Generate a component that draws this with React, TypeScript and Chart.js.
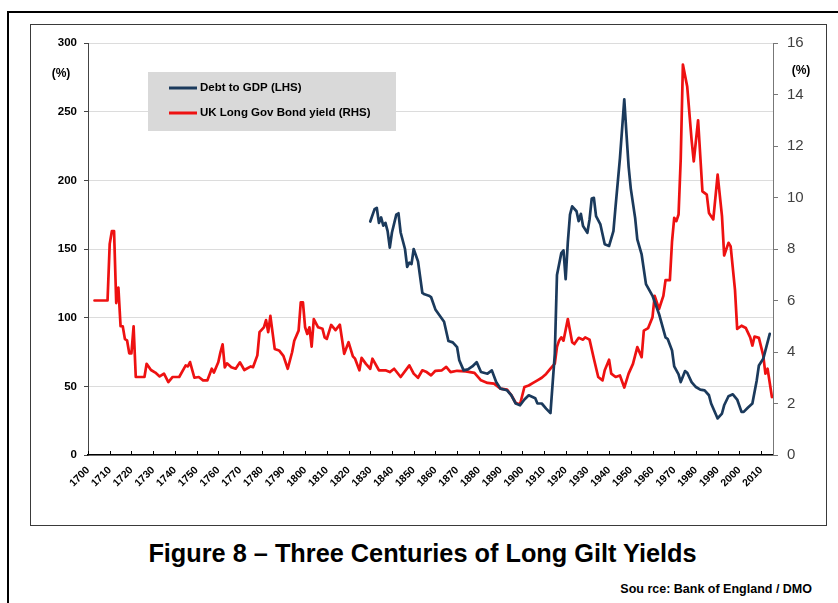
import React, { useEffect, useRef } from "react";
import { Chart, registerables } from "chart.js";

Chart.register(...registerables);

const seriesNames = ["Debt to GDP (LHS)", "UK Long Gov Bond yield (RHS)"];
const seriesColors = ["#1b3a5c", "#ee1111"];

const debtYears = [
  1830, 1832, 1833, 1834, 1835, 1836, 1837, 1838, 1839, 1840, 1842, 1843, 1844, 1846, 1847, 1848, 1849,
  1850, 1852, 1854, 1855, 1857, 1858, 1860, 1864, 1866, 1868, 1870, 1871, 1873, 1875, 1877, 1879,
  1881, 1884, 1886, 1888, 1890, 1893, 1895, 1897, 1899, 1901, 1903, 1906, 1907, 1909, 1911, 1913,
  1915, 1916, 1918, 1919, 1920, 1921, 1922, 1923, 1925, 1926, 1927, 1928, 1930, 1931, 1932, 1933,
  1934, 1936, 1938, 1940, 1942, 1943, 1945, 1947, 1948, 1949, 1950, 1952, 1953, 1955, 1957, 1960,
  1963, 1966, 1967, 1969, 1970, 1972, 1973, 1975, 1976, 1978, 1980, 1982, 1984, 1986, 1987, 1989,
  1990, 1992, 1993, 1995, 1997, 1999, 2001, 2002, 2004, 2006, 2008, 2009, 2011, 2014,
];
const debtValues = [
  170, 179, 180, 169, 173, 167, 169, 163, 151, 162, 175, 176, 162, 150, 137, 140, 139,
  150, 141, 118, 117, 116, 115, 106, 97, 83, 82, 78.5, 69, 61.6, 62.3, 64.5, 67.6,
  60.4, 59.2, 61.6, 53.1, 48.3, 47.1, 43.5, 37.5, 36.2, 40.4, 43.5, 41.3, 37.5, 37.5, 33.8, 30.5,
  73.7, 131, 147, 149, 128, 155, 175, 181, 177.5, 170.3, 175.6, 166.7, 161.8, 171.5, 186.7, 187.2,
  173.9, 167.9, 153.4, 152.2, 163, 181.2, 216, 259, 234, 210, 194, 172.7, 157, 146, 124.4, 115.9,
  102.7, 85.7, 84.5, 76.1, 64.5, 58.7, 53.1, 61.1, 59.9, 53.1, 49.5, 47.6, 47.1, 43.5, 37.5, 30.2,
  26.6, 30.2, 36.2, 42.8, 44.2, 40.4, 31.4, 31.4, 34.6, 37.5, 54.3, 65.2, 70, 88.2,
];

const yieldYears = [
  1703, 1709, 1710, 1711, 1712, 1713, 1714, 1715, 1716, 1717, 1718, 1719, 1720, 1721, 1722, 1726,
  1727, 1729, 1731, 1733, 1735, 1737, 1739, 1742, 1745, 1746, 1747, 1749, 1751, 1753, 1755, 1757,
  1758, 1760, 1761, 1762, 1763, 1764, 1766, 1768, 1770, 1772, 1775, 1776, 1778, 1779, 1781, 1782,
  1783, 1784, 1786, 1788, 1790, 1792, 1794, 1795, 1797, 1798, 1799, 1800, 1801, 1802, 1803, 1804,
  1806, 1808, 1809, 1810, 1812, 1814, 1816, 1818, 1820, 1822, 1823, 1825, 1826, 1828, 1830, 1831,
  1834, 1837, 1839, 1841, 1844, 1848, 1850, 1852, 1854, 1856, 1858, 1860, 1863, 1865, 1867, 1870,
  1874, 1878, 1881, 1884, 1887, 1890, 1893, 1895, 1897, 1899, 1901, 1903, 1905, 1907, 1909, 1911,
  1913, 1915, 1916, 1917, 1918, 1919, 1921, 1923, 1924, 1926, 1928, 1929, 1931, 1933, 1935, 1937,
  1938, 1940, 1941, 1943, 1945, 1947, 1949, 1951, 1953, 1955, 1956, 1958, 1960, 1961, 1963, 1965,
  1966, 1968, 1969, 1970, 1971, 1972, 1973, 1974, 1976, 1978, 1979, 1981, 1983, 1985, 1986, 1988,
  1990, 1992, 1993, 1995, 1996, 1998, 1999, 2001, 2003, 2005, 2006, 2007, 2009, 2011, 2012, 2013,
  2015,
];
const yieldValues = [
  6.0, 6.0, 8.2, 8.7, 8.7, 5.9, 6.5, 5.0, 5.0, 4.5, 4.45, 3.95, 3.95, 5.0, 3.03, 3.03,
  3.54, 3.3, 3.2, 3.05, 3.16, 2.83, 3.03, 3.03, 3.48, 3.44, 3.61, 3.0, 3.03, 2.9, 2.9, 3.35,
  3.2, 3.6, 3.99, 4.3, 3.4, 3.56, 3.41, 3.35, 3.6, 3.3, 3.44, 3.41, 3.87, 4.77, 4.96, 5.24,
  4.77, 5.4, 4.12, 4.06, 3.85, 3.35, 3.99, 4.44, 4.83, 5.93, 5.93, 4.96, 4.7, 4.96, 4.21, 5.28,
  4.96, 4.9, 4.57, 4.51, 5.05, 4.85, 5.06, 3.93, 4.38, 3.83, 3.74, 3.29, 3.77, 3.54, 3.35, 3.74,
  3.29, 3.29, 3.22, 3.35, 3.03, 3.48, 3.16, 3.0, 3.29, 3.22, 3.09, 3.27, 3.29, 3.42, 3.22, 3.27,
  3.25, 3.19, 2.9, 2.8, 2.77, 2.58, 2.54, 2.32, 2.02, 1.97, 2.64, 2.7, 2.8, 2.9, 3.0, 3.15,
  3.35, 3.55, 4.2, 4.45, 4.57, 4.44, 5.28, 4.38, 4.31, 4.55, 4.48, 4.57, 4.48, 3.74, 3.03, 2.9,
  3.29, 3.7, 3.16, 3.03, 3.09, 2.62, 3.16, 3.54, 4.19, 3.8, 4.83, 4.93, 5.35, 6.18, 5.67, 6.18,
  6.79, 6.79, 8.3, 9.21, 9.08, 9.34, 11.5, 15.16, 14.3, 12.24, 11.4, 13.0, 10.24, 10.11, 9.4, 9.15,
  10.89, 9.28, 7.75, 8.24, 8.1, 6.4, 4.9, 5.02, 4.93, 4.57, 4.25, 4.6, 4.55, 3.87, 3.16, 3.35,
  2.25,
];

const xTickYears = [
  1700, 1710, 1720, 1730, 1740, 1750, 1760, 1770, 1780, 1790, 1800, 1810, 1820, 1830, 1840, 1850,
  1860, 1870, 1880, 1890, 1900, 1910, 1920, 1930, 1940, 1950, 1960, 1970, 1980, 1990, 2000, 2010,
];
const leftTicks = [0, 50, 100, 150, 200, 250, 300];
const rightTicks = [0, 2, 4, 6, 8, 10, 12, 14, 16];
const unitLabel = "(%)";
const titleText = "Figure 8 \u2013 Three Centuries of Long Gilt Yields";
const sourceText = "Sou rce: Bank of England / DMO";

const FONT = "Arial, 'Liberation Sans', sans-serif";

const decorPlugin = {
  id: "decor",
  afterDraw(chart: any) {
    const ctx = chart.ctx;
    const area = chart.chartArea;
    const xs = chart.scales.x;
    ctx.save();
    ctx.strokeStyle = "#000";
    ctx.lineWidth = 1;
    xTickYears.forEach((v) => {
      const px = Math.round(xs.getPixelForValue(v)) + 0.5;
      ctx.beginPath();
      ctx.moveTo(px, area.bottom);
      ctx.lineTo(px, area.bottom - 4);
      ctx.stroke();
    });
    ctx.fillStyle = "#000";
    ctx.font = `bold 12px ${FONT}`;
    ctx.textAlign = "center";
    ctx.textBaseline = "middle";
    ctx.fillText(unitLabel, area.left - 27, area.top + 31);
    ctx.fillText(unitLabel, area.right + 28, area.top + 28);
    const lx = area.left + 60;
    const ly = area.top + 29;
    ctx.fillStyle = "#d9d9d9";
    ctx.fillRect(lx, ly, 248, 59);
    ctx.font = `bold 11.5px ${FONT}`;
    ctx.textAlign = "left";
    seriesNames.forEach((name, i) => {
      const yy = ly + 16 + i * 25;
      ctx.strokeStyle = seriesColors[i];
      ctx.lineWidth = 3;
      ctx.beginPath();
      ctx.moveTo(lx + 21, yy);
      ctx.lineTo(lx + 49, yy);
      ctx.stroke();
      ctx.fillStyle = "#000";
      ctx.fillText(name, lx + 52, yy);
    });
    ctx.restore();
  },
};

export default function App() {
  const ref = useRef<HTMLCanvasElement>(null);

  useEffect(() => {
    if (!ref.current) return;
    const chart = new Chart(ref.current, {
      type: "line",
      data: {
        datasets: [
          {
            label: seriesNames[0],
            data: debtYears.map((y, i) => ({ x: y, y: debtValues[i] })),
            borderColor: seriesColors[0],
            borderWidth: 2.7,
            pointRadius: 0,
            borderJoinStyle: "round",
            borderCapStyle: "round",
            yAxisID: "y",
          },
          {
            label: seriesNames[1],
            data: yieldYears.map((y, i) => ({ x: y, y: yieldValues[i] })),
            borderColor: seriesColors[1],
            borderWidth: 2.7,
            pointRadius: 0,
            borderJoinStyle: "round",
            borderCapStyle: "round",
            yAxisID: "y1",
          },
        ],
      },
      options: {
        responsive: false,
        animation: false,
        events: [],
        layout: { padding: { top: 16, left: 0, right: 0, bottom: 0 } },
        plugins: { legend: { display: false }, tooltip: { enabled: false } },
        scales: {
          x: {
            type: "linear",
            min: 1700,
            max: 2015.5,
            afterBuildTicks: (s: any) => {
              s.ticks = xTickYears.map((v) => ({ value: v }));
            },
            afterFit: (s: any) => {
              s.height = 70;
            },
            grid: { display: true, drawOnChartArea: false, drawTicks: false },
            border: { color: "#000", width: 1.5 },
            ticks: {
              autoSkip: false,
              maxRotation: 45,
              minRotation: 45,
              padding: 9,
              color: "#000",
              font: { family: FONT, size: 10.5, weight: "bold" },
              callback: (v: any) => String(v),
            },
          },
          y: {
            position: "left",
            min: 0,
            max: 300,
            afterBuildTicks: (s: any) => {
              s.ticks = leftTicks.map((v) => ({ value: v }));
            },
            afterFit: (s: any) => {
              s.width = 57;
            },
            grid: { color: "#dcdcdc", tickColor: "#444", tickLength: 4, lineWidth: 1 },
            border: { color: "#444", width: 1 },
            ticks: {
              padding: 7,
              color: "#000",
              font: { family: FONT, size: 11.5, weight: "bold" },
            },
          },
          y1: {
            position: "right",
            min: 0,
            max: 16,
            afterBuildTicks: (s: any) => {
              s.ticks = rightTicks.map((v) => ({ value: v }));
            },
            afterFit: (s: any) => {
              s.width = 53;
            },
            grid: { drawOnChartArea: false, tickColor: "#777", tickLength: 5 },
            border: { color: "#777", width: 1 },
            ticks: {
              padding: 9,
              color: "#404040",
              font: { family: FONT, size: 15, weight: "normal" },
            },
          },
        },
      },
      plugins: [decorPlugin],
    } as any);
    return () => chart.destroy();
  }, []);

  return (
    <div
      style={{
        position: "fixed",
        left: 0,
        top: 0,
        width: 838,
        height: 603,
        overflow: "hidden",
        background: "#fff",
        fontFamily: FONT,
      }}
    >
      <div
        style={{
          position: "absolute",
          left: 7,
          top: 11,
          width: 900,
          height: 700,
          borderLeft: "2px solid #000",
          borderTop: "2px solid #000",
        }}
      />
      <div
        style={{
          position: "absolute",
          left: 30,
          top: 24,
          width: 797,
          height: 502,
          border: "1px solid #3a3a3a",
          boxSizing: "border-box",
          background: "#fff",
        }}
      >
        <canvas ref={ref} width={795} height={500} style={{ display: "block", width: 795, height: 500 }} />
      </div>
      <div
        style={{
          position: "absolute",
          left: 0,
          width: 845,
          top: 538,
          textAlign: "center",
          fontSize: 25.3,
          lineHeight: "30px",
          fontWeight: "bold",
          color: "#000",
        }}
      >
        {titleText}
      </div>
      <div
        style={{
          position: "absolute",
          right: 26,
          top: 582,
          fontSize: 12.5,
          lineHeight: "15px",
          fontWeight: "bold",
          color: "#000",
          whiteSpace: "nowrap",
        }}
      >
        {sourceText}
      </div>
    </div>
  );
}
